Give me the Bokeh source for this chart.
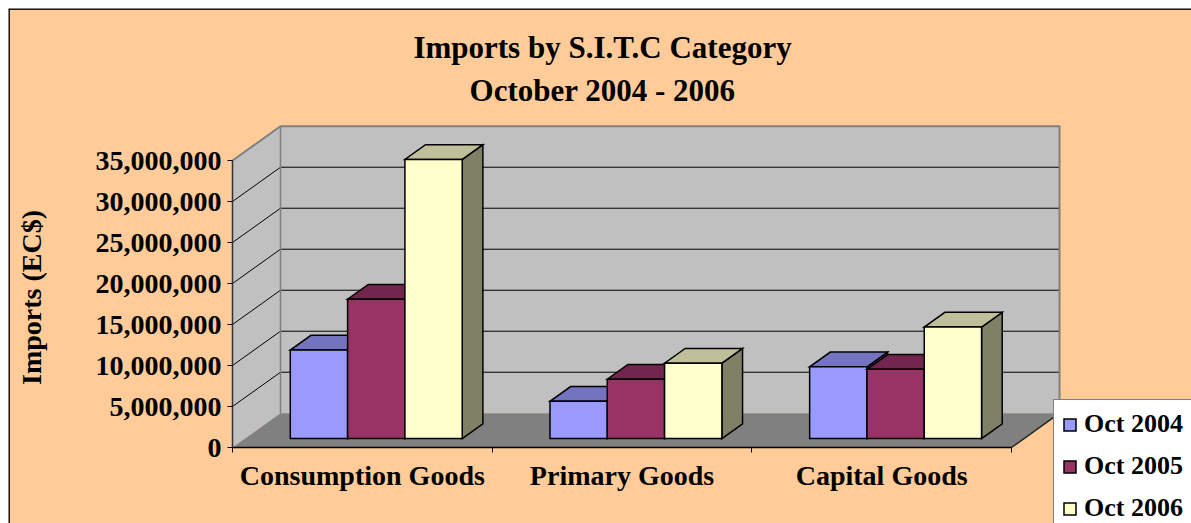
import math
from bokeh.plotting import figure
from bokeh.models import Range1d, FixedTicker, Legend, LegendItem, Span
from bokeh.core.properties import value
from bokeh.embed import file_html
from bokeh.resources import INLINE

# ---------------- data ----------------
categories = ["Consumption Goods", "Primary Goods", "Capital Goods"]
series_names = ["Oct 2004", "Oct 2005", "Oct 2006"]
oct_2004 = [10_800_000, 4_550_000, 8_750_000]
oct_2005 = [17_000_000, 7_250_000, 8_450_000]
oct_2006 = [34_050_000, 9_200_000, 13_600_000]
y_ticks = [0, 5_000_000, 10_000_000, 15_000_000, 20_000_000, 25_000_000, 30_000_000, 35_000_000]
y_tick_labels = ["0", "5,000,000", "10,000,000", "15,000,000", "20,000,000",
                 "25,000,000", "30,000,000", "35,000,000"]
title_lines = ["Imports by S.I.T.C Category", "October 2004 - 2006"]
y_label = "Imports (EC$)"

# ---------------- style / geometry ----------------
FONT = "Liberation Serif"
BG = "#FFCC99"
FRONT = ["#9999FF", "#993366", "#FFFFCC"]
TOP = ["#7373BF", "#73264D", "#BFBF99"]
SIDE = ["#4D4D80", "#4D1A33", "#808066"]
DX = 0.1849          # full depth offset (category units)
DY = 4_180_000       # full depth offset (value units)
D0, D1 = 0.26, 0.69  # bar front / back depth fractions
GAP = 0.1745
BW = 0.2207
NCAT = len(categories)
YMAX = y_ticks[-1]
X_RANGE = (-0.8626, 3.6931)
Y_RANGE = (-9_268_000, 53_537_000)

p = figure(width=1183, height=515, output_backend="svg", toolbar_location=None,
           x_range=Range1d(*X_RANGE), y_range=Range1d(*Y_RANGE))
p.min_border = 0
p.min_border_left = 0
p.min_border_right = 0
p.min_border_top = 0
p.min_border_bottom = 0
p.title.visible = False
p.background_fill_color = BG
p.border_fill_color = BG
p.outline_line_color = None
p.grid.visible = False
p.styles = {"margin-left": "8px", "margin-top": "8px"}

# chart-area border (only top and left are inside the picture)
p.add_layout(Span(location=Y_RANGE[1], dimension="width",
                  line_color="#1a1a1a", line_width=3))
p.add_layout(Span(location=X_RANGE[0], dimension="height",
                  line_color="#1a1a1a", line_width=3))

# ---------------- walls & floor ----------------
p.patch(x=[0, DX, DX, 0], y=[0, DY, DY + YMAX, YMAX],
        fill_color="#C0C0C0", line_color=None)
p.quad(left=[DX], right=[NCAT + DX], bottom=[DY], top=[DY + YMAX],
       fill_color="#C0C0C0", line_color=None)
p.patch(x=[0, NCAT, NCAT + DX, DX], y=[0, 0, DY, DY],
        fill_color="#808080", line_color=None)

grid_vals = y_ticks[1:-1]
p.segment(x0=[0] * len(grid_vals), y0=grid_vals,
          x1=[DX] * len(grid_vals), y1=[v + DY for v in grid_vals],
          line_color="black", line_width=1)
p.segment(x0=[DX] * len(grid_vals), y0=[v + DY for v in grid_vals],
          x1=[NCAT + DX] * len(grid_vals), y1=[v + DY for v in grid_vals],
          line_color="black", line_width=1)
p.line(x=[0, DX, NCAT + DX, NCAT + DX], y=[YMAX, DY + YMAX, DY + YMAX, DY],
       line_color="#808080", line_width=2)
p.line(x=[DX, DX], y=[DY, DY + YMAX], line_color="#808080", line_width=1.5)
p.line(x=[NCAT, NCAT + DX], y=[0, DY], line_color="#222222", line_width=1.5)

# ---------------- 3D bars ----------------
fronts = []
for j, vals in enumerate([oct_2004, oct_2005, oct_2006]):
    side_xs, side_ys, top_xs, top_ys = [], [], [], []
    fl, fr, fb, ft = [], [], [], []
    for i, v in enumerate(vals):
        x0 = i + GAP + j * BW
        x1 = x0 + BW
        fx0, fx1 = x0 + D0 * DX, x1 + D0 * DX
        bx0, bx1 = x0 + D1 * DX, x1 + D1 * DX
        fy0, fy1 = D0 * DY, v + D0 * DY
        by0, by1 = D1 * DY, v + D1 * DY
        side_xs.append([fx1, bx1, bx1, fx1])
        side_ys.append([fy0, by0, by1, fy1])
        top_xs.append([fx0, fx1, bx1, bx0])
        top_ys.append([fy1, fy1, by1, by1])
        fl.append(fx0); fr.append(fx1); fb.append(fy0); ft.append(fy1)
    p.patches(xs=side_xs, ys=side_ys, fill_color=SIDE[j], line_color="black",
              line_width=1.5, line_join="miter")
    p.patches(xs=top_xs, ys=top_ys, fill_color=TOP[j], line_color="black",
              line_width=1.5, line_join="miter")
    r = p.quad(left=fl, right=fr, bottom=fb, top=ft, fill_color=FRONT[j],
               line_color="black", line_width=1.5, line_join="miter")
    fronts.append(r)

# ---------------- axes (fixed at the data origin) ----------------
xa = p.xaxis[0]
xa.fixed_location = 0
xa.ticker = FixedTicker(ticks=[i + 0.5 for i in range(NCAT)],
                        minor_ticks=list(range(NCAT + 1)))
xa.major_label_overrides = {i + 0.5: c for i, c in enumerate(categories)}
xa.bounds = (0, NCAT)
xa.major_tick_out = 0
xa.major_tick_in = 0
xa.minor_tick_out = 5
xa.minor_tick_in = 0
xa.minor_tick_line_color = "black"
xa.axis_line_color = "black"
xa.axis_line_width = 1.5
xa.major_label_standoff = 7
xa.major_label_text_font = FONT
xa.major_label_text_font_style = "bold"
xa.major_label_text_font_size = "28px"
xa.major_label_text_color = "black"

ya = p.yaxis[0]
ya.fixed_location = 0
ya.ticker = FixedTicker(ticks=y_ticks)
ya.major_label_overrides = dict(zip(y_ticks, y_tick_labels))
ya.bounds = (0, YMAX)
ya.minor_tick_line_color = None
ya.major_tick_out = 5
ya.major_tick_in = 0
ya.major_tick_line_color = "black"
ya.axis_line_color = "#333333"
ya.axis_line_width = 1.5
ya.major_label_standoff = 6
ya.major_label_text_font = FONT
ya.major_label_text_font_style = "bold"
ya.major_label_text_font_size = "28px"
ya.major_label_text_color = "black"

# ---------------- texts ----------------
p.text(x=[1.425, 1.425], y=[48_720_000, 43_510_000], text=title_lines,
       text_align="center", text_baseline="alphabetic",
       text_font=value(FONT), text_font_style="bold",
       text_font_size=value("31px"), text_color="black")
p.text(x=[-0.7756], y=[18_290_000], text=[y_label], angle=math.pi / 2,
       text_align="center", text_baseline="alphabetic",
       text_font=value(FONT), text_font_style="bold",
       text_font_size=value("28px"), text_color="black")

# ---------------- legend ----------------
legend = Legend(items=[LegendItem(label=s, renderers=[r]) for s, r in zip(series_names, fronts)],
                location=(1045, -10), orientation="vertical",
                glyph_width=15, glyph_height=15, label_standoff=7,
                spacing=10, padding=8, margin=0, label_height=32,
                label_text_font=FONT, label_text_font_style="bold",
                label_text_font_size="26px", label_text_color="black",
                border_line_color="black", border_line_width=1.5,
                background_fill_color="white", background_fill_alpha=1)
p.add_layout(legend)

open("out.html", "w").write(file_html(p, INLINE))
